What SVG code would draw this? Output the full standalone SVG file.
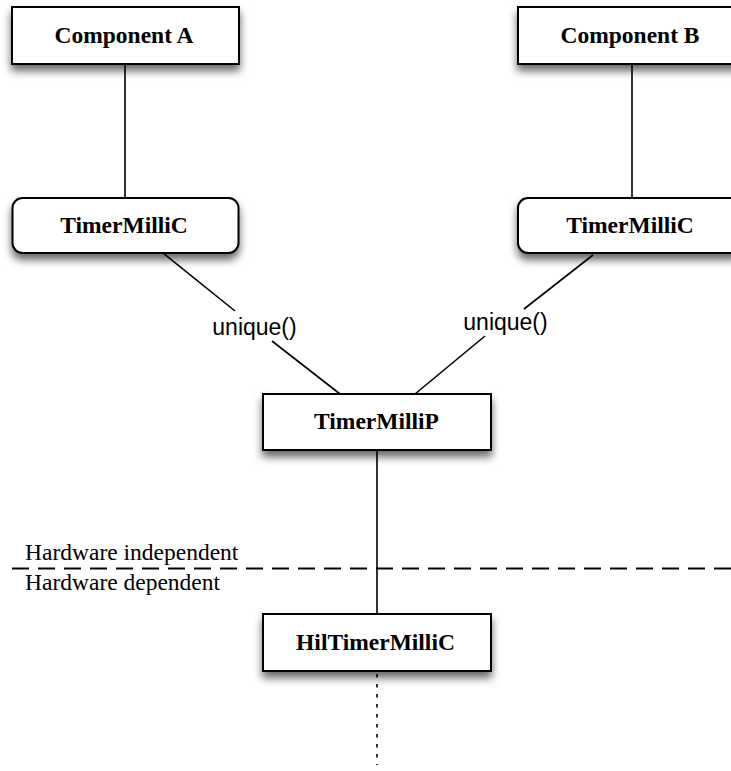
<svg xmlns="http://www.w3.org/2000/svg" width="731" height="771" viewBox="0 0 731 771">
  <defs>
    <filter id="shadow" x="-10%" y="-20%" width="120%" height="170%">
      <feDropShadow dx="0" dy="6" stdDeviation="4" flood-color="#000" flood-opacity="0.6"/>
    </filter>
    <style>
      .box { fill: #fff; stroke: #000; stroke-width: 2; filter: url(#shadow); }
      .name { font-family: "Liberation Serif", "Times New Roman", serif; font-weight: bold; font-size: 23.5px; fill: #000; text-anchor: middle; }
      .wire { stroke: #000; stroke-width: 1.6; fill: none; }
      .label { font-family: "Liberation Sans", Arial, sans-serif; font-size: 23px; fill: #000; text-anchor: middle; }
      .note { font-family: "Liberation Serif", "Times New Roman", serif; font-size: 23.5px; fill: #000; }
    </style>
  </defs>
  <rect width="731" height="771" fill="#fff"/>

  <!-- connectors -->
  <g id="connectors">
    <line class="wire" x1="125" y1="64" x2="125" y2="198"/>
    <line class="wire" x1="632" y1="64" x2="632" y2="198"/>
    <line class="wire" x1="163" y1="253" x2="235" y2="311"/>
    <line class="wire" x1="272" y1="341" x2="340" y2="394"/>
    <line class="wire" x1="593" y1="255" x2="524" y2="309"/>
    <line class="wire" x1="485" y1="336" x2="415" y2="394"/>
    <line class="wire" x1="377" y1="450" x2="377" y2="614"/>
    <line class="wire" x1="377" y1="674" x2="377" y2="765" stroke-width="2.4" stroke-dasharray="3.5 6.5"/>
    <text class="label" x="254.5" y="335">unique()</text>
    <text class="label" x="505.5" y="330">unique()</text>
  </g>

  <!-- layer boundary -->
  <g id="layer-boundary">
    <line x1="12" y1="568.5" x2="731" y2="568.5" stroke="#000" stroke-width="2" stroke-dasharray="17 9"/>
    <text class="note" x="25" y="560">Hardware independent</text>
    <text class="note" x="25" y="590">Hardware dependent</text>
  </g>

  <g id="component-a">
    <rect class="box" x="12" y="7" width="227" height="57"/>
    <text class="name" x="124" y="43">Component A</text>
  </g>

  <g id="component-b">
    <rect class="box" x="518" y="7" width="227" height="57"/>
    <text class="name" x="630" y="43">Component B</text>
  </g>

  <g id="timermillic-a">
    <rect class="box" x="12.5" y="198" width="226" height="55" rx="10" ry="10"/>
    <text class="name" x="124" y="233">TimerMilliC</text>
  </g>

  <g id="timermillic-b">
    <rect class="box" x="518" y="198" width="226" height="55" rx="10" ry="10"/>
    <text class="name" x="630" y="233">TimerMilliC</text>
  </g>

  <g id="timermillip">
    <rect class="box" x="263" y="394" width="228" height="56"/>
    <text class="name" x="376.5" y="429">TimerMilliP</text>
  </g>

  <g id="hiltimermillic">
    <rect class="box" x="263" y="614" width="228" height="57"/>
    <text class="name" x="375.5" y="650">HilTimerMilliC</text>
  </g>
</svg>
